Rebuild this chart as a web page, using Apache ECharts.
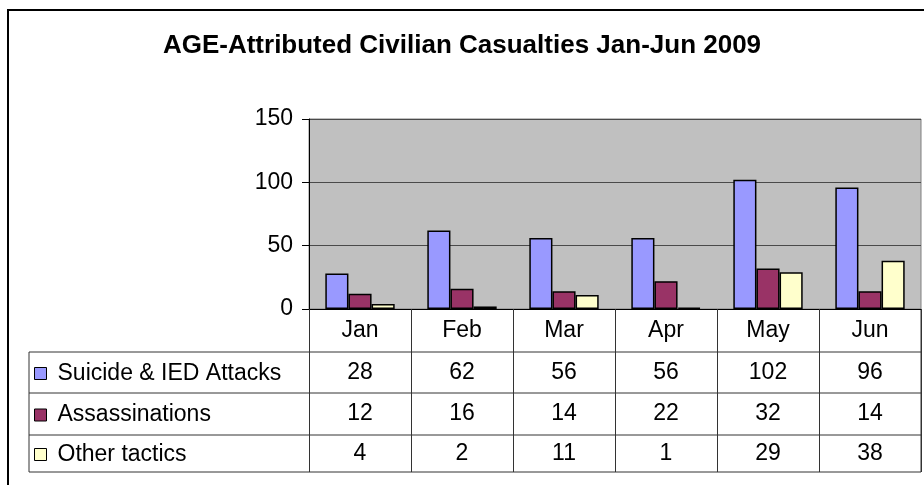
<!DOCTYPE html>
<html>
<head>
<meta charset="utf-8">
<script src="https://cdn.jsdelivr.net/npm/echarts@6/dist/echarts.min.js"></script>
<style>
  html, body { margin: 0; padding: 0; background: #fff; }
  #chart { width: 924px; height: 485px; }
</style>
</head>
<body>
<div id="chart"></div>
<script>
const months = ['Jan', 'Feb', 'Mar', 'Apr', 'May', 'Jun']
const suicideIed = [28, 62, 56, 56, 102, 96]
const assassinations = [12, 16, 14, 22, 32, 14]
const otherTactics = [4, 2, 11, 1, 29, 38]
const seriesNames = ['Suicide & IED Attacks', 'Assassinations', 'Other tactics']
const seriesColors = ['#9999FF', '#993366', '#FFFFCC']
const yTicks = [0, 50, 100, 150]

const font = 'Liberation Sans, Arial, sans-serif'
const fs = 23
const seriesData = [suicideIed, assassinations, otherTactics]

// plot area and data table geometry
const plotLeft = 309, plotRight = 921, plotTop = 119, plotBottom = 309
const tableLeft = 29
const rowLines = [352, 393, 435, 472]
const rowCenters = [372.5, 414, 453.5]

const chart = echarts.init(document.getElementById('chart'), null, { renderer: 'canvas' })

// one extra category axis per series to print the data table values
const tableAxes = seriesData.map((vals, i) => ({
  type: 'category',
  data: vals.map(String),
  position: 'bottom',
  offset: rowCenters[i] - plotBottom,
  axisLine: { show: false },
  axisTick: { show: false },
  axisLabel: {
    color: '#000', fontFamily: font, fontSize: fs,
    margin: 0, verticalAlign: 'middle', interval: 0
  }
}))

// one legend per table row so each key sits in its own row
const legends = seriesNames.map((name, i) => ({
  data: [name],
  left: 34,
  top: rowCenters[i] - 11,
  padding: 0,
  itemWidth: 12,
  itemHeight: 12,
  itemGap: 0,
  icon: 'rect',
  selectedMode: false,
  itemStyle: { borderColor: '#000', borderWidth: 1 },
  textStyle: { fontFamily: font, fontSize: fs, lineHeight: 24, color: '#000', padding: [0, 0, 0, 6] }
}))

chart.setOption({
  animation: false,
  textStyle: { fontFamily: font },
  title: {
    text: 'AGE-Attributed Civilian Casualties Jan-Jun 2009',
    left: 'center',
    top: 28,
    textStyle: { fontFamily: font, fontSize: 26, fontWeight: 'bold', color: '#000' }
  },
  legend: legends,
  grid: {
    left: plotLeft, right: 924 - plotRight, top: plotTop, bottom: 485 - plotBottom,
    show: true, backgroundColor: '#C0C0C0', borderColor: '#808080', borderWidth: 1
  },
  xAxis: [{
    type: 'category',
    data: months,
    axisLine: { lineStyle: { color: '#000', width: 1 } },
    axisTick: { show: true, inside: false, length: rowLines[3] - plotBottom, lineStyle: { color: '#333' } },
    axisLabel: { color: '#000', fontFamily: font, fontSize: fs, margin: 10, interval: 0 }
  }].concat(tableAxes),
  yAxis: {
    type: 'value',
    min: yTicks[0],
    max: yTicks[yTicks.length - 1],
    interval: 50,
    axisLine: { show: true, lineStyle: { color: '#000' } },
    axisTick: { show: true, length: 7, lineStyle: { color: '#000' } },
    axisLabel: { color: '#000', fontFamily: font, fontSize: fs, margin: 16 },
    splitLine: { lineStyle: { color: '#4a4a4a', width: 1 } }
  },
  series: seriesData.map((vals, i) => ({
    name: seriesNames[i],
    type: 'bar',
    data: vals,
    barGap: '0%',
    barCategoryGap: '32%',
    itemStyle: { color: seriesColors[i], borderColor: '#000', borderWidth: 1.5 }
  })),
  graphic: [
    // outer chart frame
    { type: 'rect', shape: { x: 8, y: 10, width: 930, height: 490 },
      style: { fill: 'none', stroke: '#000', lineWidth: 2 }, silent: true, z: 0 },
    // data table outline
    { type: 'line', shape: { x1: tableLeft, y1: rowLines[0], x2: tableLeft, y2: rowLines[3] },
      style: { stroke: '#333', lineWidth: 1 } },
    ...rowLines.map(y => ({
      type: 'line', shape: { x1: tableLeft, y1: y, x2: plotRight, y2: y },
      style: { stroke: '#333', lineWidth: 1 }
    })),
    { type: 'line', shape: { x1: plotRight, y1: plotBottom, x2: plotRight, y2: rowLines[3] },
      style: { stroke: '#333', lineWidth: 1 } }
  ]
})
</script>
</body>
</html>
